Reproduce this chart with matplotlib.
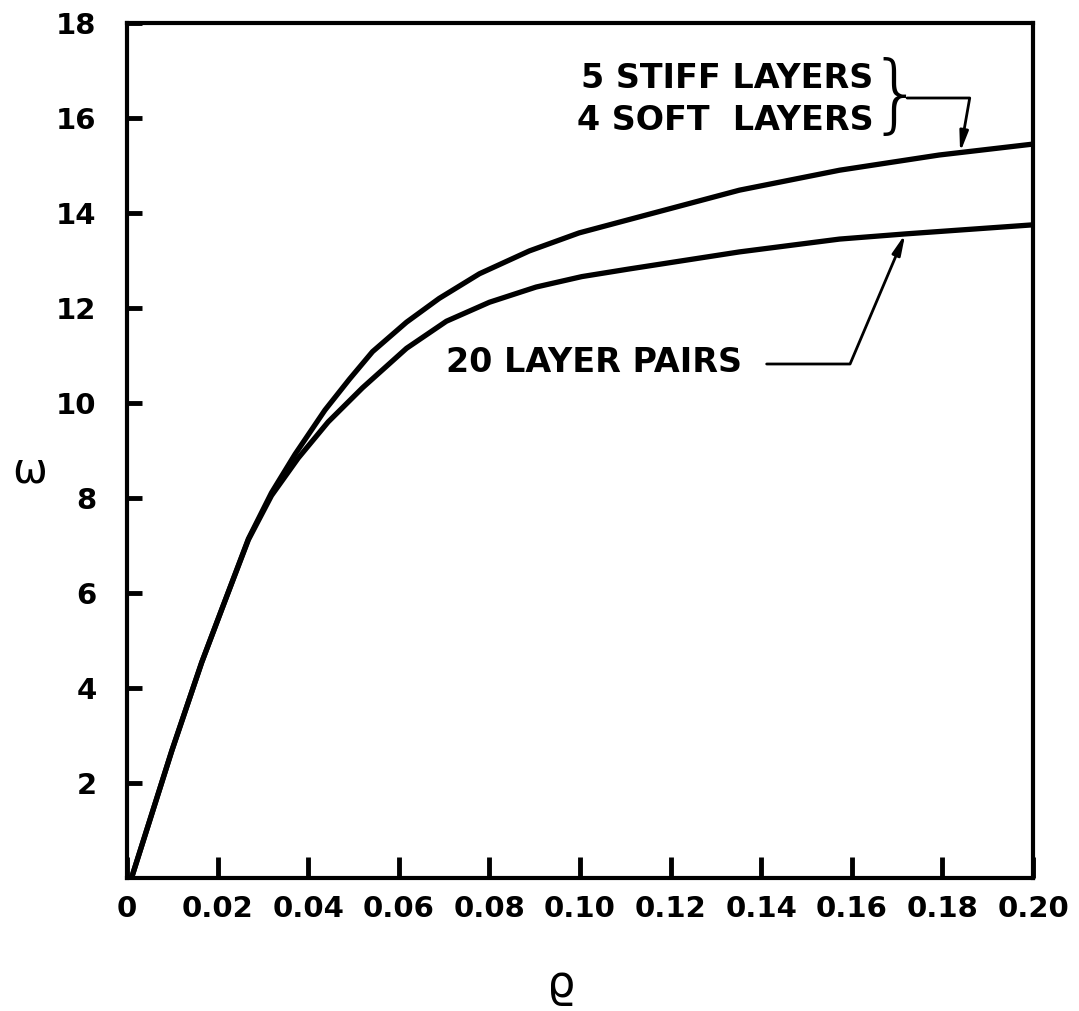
"""
    Frequency vs wave number for layered composites (digitised from scan).
"""

import numpy as np
import matplotlib.pyplot as plt

# 5 stiff layers / 4 soft layers
rho_stiff = [0.001, 0.0099, 0.0165, 0.0209, 0.0268, 0.0319, 0.0371, 0.0437, 0.0491, 0.0542,
             0.0617, 0.0689, 0.0778, 0.0888, 0.0998, 0.1108, 0.1352, 0.1573, 0.1793, 0.20]
omega_stiff = [0, 2.68, 4.54, 5.65, 7.14, 8.11, 8.92, 9.85, 10.5, 11.08,
               11.7, 12.2, 12.72, 13.2, 13.58, 13.86, 14.48, 14.9, 15.22, 15.45]

# 20 layer pairs
rho_pairs = [0.001, 0.0099, 0.0165, 0.0209, 0.0268, 0.0319, 0.0378, 0.0444, 0.052, 0.0617,
             0.0705, 0.08, 0.0903, 0.1004, 0.1108, 0.1352, 0.1573, 0.172, 0.20]
omega_pairs = [0, 2.68, 4.54, 5.65, 7.12, 8.05, 8.84, 9.6, 10.32, 11.15,
               11.72, 12.12, 12.44, 12.66, 12.82, 13.18, 13.45, 13.56, 13.75]

x_ticks = [0, 0.02, 0.04, 0.06, 0.08, 0.10, 0.12, 0.14, 0.16, 0.18, 0.20]
x_tick_labels = ["0", "0.02", "0.04", "0.06", "0.08", "0.10", "0.12", "0.14", "0.16", "0.18", "0.20"]
y_ticks = [2, 4, 6, 8, 10, 12, 14, 16, 18]

fig = plt.figure(figsize=(10.79, 10.11), dpi=100)
ax = fig.add_axes([0.1177, 0.1316, 0.8397, 0.8457])

ax.plot(rho_stiff, omega_stiff, color="k", lw=3.8, solid_capstyle="round", solid_joinstyle="round")
ax.plot(rho_pairs, omega_pairs, color="k", lw=3.8, solid_capstyle="round", solid_joinstyle="round")

ax.set_xlim(0, 0.20)
ax.set_ylim(0, 18)
ax.set_xticks(x_ticks)
ax.set_xticklabels(x_tick_labels)
ax.set_yticks(y_ticks)
ax.set_yticklabels([str(v) for v in y_ticks])
ax.tick_params(axis="x", direction="in", length=15, width=3.5, pad=12, labelsize=21)
ax.tick_params(axis="y", direction="in", length=11, width=3.5, pad=22, labelsize=21)
for lab in ax.get_xticklabels() + ax.get_yticklabels():
    lab.set_fontweight("bold")
for sp in ax.spines.values():
    sp.set_linewidth(3)

ax.set_ylabel("ω", fontsize=30, rotation=0, va="center")
ax.yaxis.set_label_coords(-0.107, 0.477)
ax.set_xlabel("ϱ", fontsize=32, va="center")
ax.xaxis.set_label_coords(0.479, -0.125)

# annotations
ax.text(0.1648, 16.82, "5 STIFF LAYERS", ha="right", va="center", fontsize=24, fontweight="bold")
ax.text(0.1648, 15.94, "4 SOFT  LAYERS", ha="right", va="center", fontsize=24, fontweight="bold")
ax.text(0.1697, 16.42, "}", ha="center", va="center", fontsize=62, fontweight="light")
ax.annotate("", xy=(0.1839, np.interp(0.1839, rho_stiff, omega_stiff)), xytext=(0.1722, 16.42),
            arrowprops=dict(arrowstyle="-|>,head_length=1.2,head_width=0.25", color="k", lw=2,
                            connectionstyle="angle,angleA=0,angleB=80,rad=0",
                            shrinkA=0, shrinkB=0))

ax.text(0.0705, 10.86, "20 LAYER PAIRS", ha="left", va="center", fontsize=24, fontweight="bold")
ax.annotate("", xy=(0.1718, np.interp(0.1718, rho_pairs, omega_pairs)), xytext=(0.1412, 10.82),
            arrowprops=dict(arrowstyle="-|>,head_length=1.2,head_width=0.25", color="k", lw=2,
                            connectionstyle="angle,angleA=0,angleB=67,rad=0",
                            shrinkA=0, shrinkB=0))

plt.savefig("out.png", dpi=100)
